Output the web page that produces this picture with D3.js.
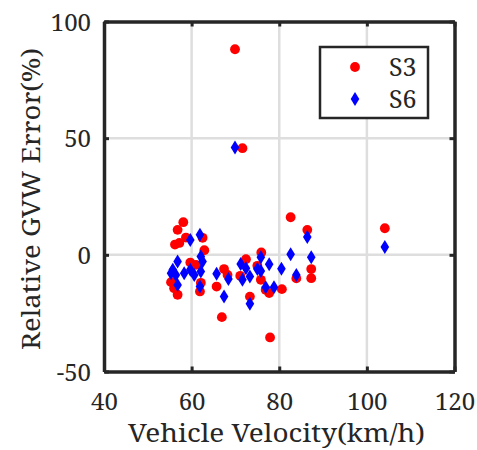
<!DOCTYPE html>
<html>
<head>
<meta charset="utf-8">
<script src="https://cdn.jsdelivr.net/npm/d3@7"></script>
<style>
  body { margin: 0; background: #fff; }
  text { font-family: "Noto Serif", "Liberation Serif", serif; fill: #262626; }
</style>
</head>
<body>
<svg id="chart" width="477" height="450"></svg>
<script>
// S3 (red circles): velocity km/h, relative GVW error %
const s3Speed = [58.1, 56.8, 56.2, 57.2, 58.7, 62.5, 62.9, 59.7, 61.0, 55.3, 56.0, 56.8,
  61.9, 62.1, 65.7, 67.4, 68.2, 66.9, 71.1, 72.4, 73.3, 75.0, 75.9, 75.8, 76.9, 77.7,
  77.9, 80.6, 82.6, 83.9, 86.4, 87.3, 87.3, 69.9, 71.6, 104.1]
const s3Error = [14.0, 10.7, 4.4, 5.1, 7.4, 7.3, 2.0, -3.3, -4.3, -11.7, -14.3, -17.1,
  -15.7, -12.0, -13.6, -6.1, -8.6, -26.7, -9.0, -1.9, -17.9, -4.7, 1.0, -10.7, -15.0, -16.4,
  -35.4, -14.7, 16.1, -10.1, 10.7, -6.1, -10.0, 88.1, 45.7, 11.4]

// S6 (blue diamonds)
const s6Speed = [59.7, 61.9, 56.8, 55.7, 55.3, 56.4, 56.8, 58.3, 59.7, 60.6, 62.1, 62.5,
  62.1, 61.9, 65.7, 68.4, 67.4, 71.2, 72.4, 71.6, 73.3, 73.3, 75.8, 75.0, 77.7, 75.8,
  76.9, 78.8, 80.5, 82.6, 83.9, 86.4, 87.3, 69.9, 104.1]
const s6Error = [6.4, 8.6, -2.9, -6.4, -7.9, -8.6, -12.9, -7.9, -6.4, -8.6, -0.7, -2.9,
  -7.1, -13.6, -8.1, -10.4, -17.9, -3.9, -5.7, -10.7, -9.3, -21.0, -1.0, -6.1, -4.0, -6.9,
  -13.9, -13.9, -6.0, 0.3, -8.6, 7.6, -1.0, 46.0, 3.4]

const xTicks = [40, 60, 80, 100, 120]
const yTicks = [-50, 0, 50, 100]
const seriesNames = ['S3', 'S6']

const plotLeft = 104, plotRight = 454.5, plotTop = 21.5, plotBottom = 371.5
const ink = '#262626'
const svg = d3.select('#chart')

const x = d3.scaleLinear().domain([40, 120]).range([plotLeft, plotRight])
const y = d3.scaleLinear().domain([-50, 100]).range([plotBottom, plotTop])

// grid
const grid = svg.append('g').attr('class', 'grid')
grid.selectAll('line.gx').data(xTicks.slice(1, -1)).enter().append('line')
  .attr('x1', d => x(d)).attr('x2', d => x(d))
  .attr('y1', plotTop).attr('y2', plotBottom)
  .attr('stroke', '#dedede').attr('stroke-width', 2.5)
grid.selectAll('line.gy').data(yTicks.slice(1, -1)).enter().append('line')
  .attr('y1', d => y(d)).attr('y2', d => y(d))
  .attr('x1', plotLeft).attr('x2', plotRight)
  .attr('stroke', '#dedede').attr('stroke-width', 2.5)

// points
const s3 = s3Speed.map((v, i) => [v, s3Error[i]])
const s6 = s6Speed.map((v, i) => [v, s6Error[i]])

svg.append('g').selectAll('circle').data(s3).enter().append('circle')
  .attr('cx', d => x(d[0])).attr('cy', d => y(d[1]))
  .attr('r', 4.9).attr('fill', '#ff0000')

const diamond = 'M0,-7L4.3,0L0,7L-4.3,0Z'
svg.append('g').selectAll('path').data(s6).enter().append('path')
  .attr('transform', d => 'translate(' + x(d[0]) + ',' + y(d[1]) + ')')
  .attr('d', diamond).attr('fill', '#0000ff')

// axes (box with inward ticks)
const plain = d => String(d)
const xAxis = svg.append('g').attr('transform', 'translate(0,' + plotBottom + ')')
  .call(d3.axisBottom(x).tickValues(xTicks).tickFormat(plain).tickSizeInner(-5).tickSizeOuter(0).tickPadding(0))
const yAxis = svg.append('g').attr('transform', 'translate(' + plotLeft + ',0)')
  .call(d3.axisLeft(y).tickValues(yTicks).tickFormat(plain).tickSizeInner(-5).tickSizeOuter(0).tickPadding(0))
const xTop = svg.append('g').attr('transform', 'translate(0,' + plotTop + ')')
  .call(d3.axisTop(x).tickValues(xTicks).tickSizeInner(-5).tickSizeOuter(0).tickFormat(''))
const yRight = svg.append('g').attr('transform', 'translate(' + plotRight + ',0)')
  .call(d3.axisRight(y).tickValues(yTicks).tickSizeInner(-5).tickSizeOuter(0).tickFormat(''))

;[xAxis, yAxis, xTop, yRight].forEach(a => {
  a.attr('font-family', null).attr('font-size', null)
  a.select('.domain').attr('stroke', ink).attr('stroke-width', 3.5)
  a.selectAll('.tick line').attr('stroke', ink).attr('stroke-width', 3)
  a.selectAll('.tick text').attr('font-size', 24).attr('fill', ink)
})
xAxis.selectAll('.tick text').attr('y', 38).attr('dy', null)
yAxis.selectAll('.tick text').attr('x', -13).attr('dy', '0.36em')

// axis labels
svg.append('text')
  .text('Vehicle Velocity(km/h)')
  .attr('x', 128).attr('y', 442)
  .attr('textLength', 297).attr('lengthAdjust', 'spacingAndGlyphs')
  .attr('font-size', 25)

svg.append('text')
  .text('Relative GVW Error(%)')
  .attr('transform', 'translate(40,350) rotate(-90)')
  .attr('textLength', 302).attr('lengthAdjust', 'spacingAndGlyphs')
  .attr('font-size', 25)

// legend
const lg = svg.append('g')
lg.append('rect').attr('x', 320).attr('y', 47).attr('width', 108).attr('height', 71)
  .attr('fill', '#fff').attr('stroke', ink).attr('stroke-width', 2.5)
lg.append('circle').attr('cx', 355).attr('cy', 67).attr('r', 4.9).attr('fill', '#ff0000')
lg.append('path').attr('transform', 'translate(355,99)').attr('d', diamond).attr('fill', '#0000ff')
lg.selectAll('text.lt').data(seriesNames).enter().append('text')
  .text(d => d)
  .attr('x', 389).attr('y', (d, i) => 67 + i * 32)
  .attr('dy', '0.36em').attr('font-size', 25)
</script>
</body>
</html>
